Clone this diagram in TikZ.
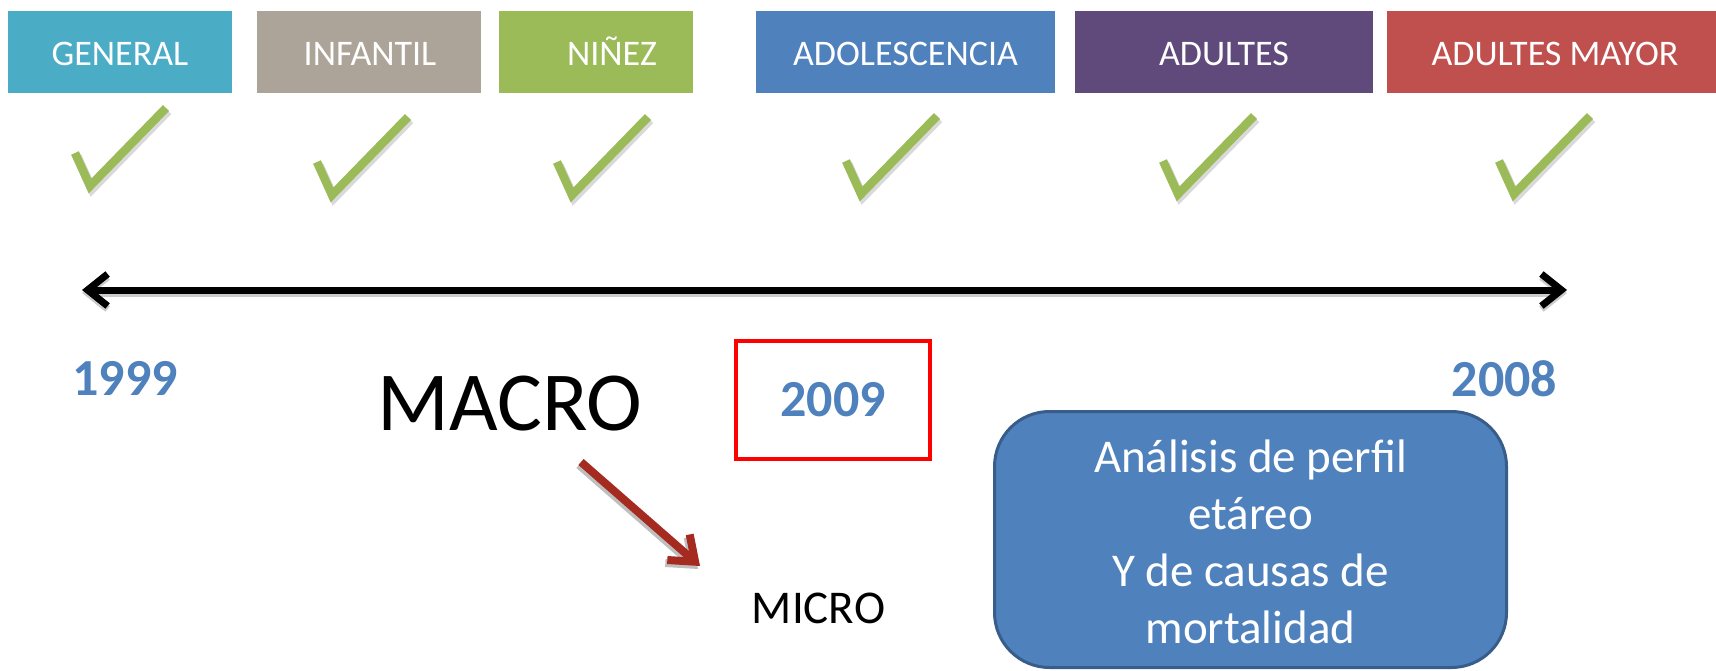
\documentclass[tikz,border=0pt]{standalone}
\usepackage{fontspec}
\setmainfont{Carlito}
\usetikzlibrary{arrows.meta}
\definecolor{cGeneral}{HTML}{4BACC6}
\definecolor{cInfantil}{HTML}{ACA498}
\definecolor{cNinez}{HTML}{9BBB59}
\definecolor{cAdol}{HTML}{4F81BD}
\definecolor{cAdult}{HTML}{604A7B}
\definecolor{cMayor}{HTML}{C0504D}
\definecolor{cBlue}{HTML}{4F81BD}
\definecolor{cBorder}{HTML}{385D8A}
\definecolor{cArrowRed}{HTML}{A52A20}
\begin{document}
\begin{tikzpicture}[x=1pt,y=-1pt,
  catbox/.style={rectangle, inner sep=0pt, anchor=north west, minimum height=82pt},
  catlabel/.style={anchor=base, text=white, font=\fontsize{36}{43}\selectfont, inner sep=0pt},
  tick/.style={draw=cNinez, line width=8.5pt},
  tickshadow/.style={draw=black, opacity=0.15, line width=9pt},
  year/.style={text=cBlue, font=\bfseries\fontsize{52}{62}\selectfont, inner sep=0pt},
  timeline/.style={line width=7pt, {Straight Barb[length=20pt,width=32pt]}-{Straight Barb[length=20pt,width=32pt]}},
  redarrow/.style={draw=cArrowRed, line width=8pt, -{Straight Barb[length=22pt,width=34pt]}},
]
\useasboundingbox (0,0) rectangle (1716,671);

% category boxes
\node[catbox, fill=cGeneral,  minimum width=224pt] (bGeneral)  at (8,11) {};
\node[catbox, fill=cInfantil, minimum width=224pt] (bInfantil) at (257,11) {};
\node[catbox, fill=cNinez,    minimum width=194pt] (bNinez)    at (499,11) {};
\node[catbox, fill=cAdol,     minimum width=299pt] (bAdol)     at (756,11) {};
\node[catbox, fill=cAdult,    minimum width=298pt] (bAdult)    at (1075,11) {};
\node[catbox, fill=cMayor,    minimum width=329pt] (bMayor)    at (1387,11) {};

\node[catlabel] (lGeneral)  at (120,65.5)  {GENERAL};
\node[catlabel] (lInfantil) at (370,65.5)  {INFANTIL};
\node[catlabel] (lNinez)    at (612,65.5)  {NIÑEZ};
\node[catlabel] (lAdol)     at (905.5,65.5) {ADOLESCENCIA};
\node[catlabel] (lAdult)    at (1224,65.5) {ADULTES};
\node[catlabel] (lMayor)    at (1555,65.5) {ADULTES MAYOR};

% check marks
\foreach \vx/\vy in {90/186, 332/195, 572/195, 861/194, 1178/194, 1514/194}{
  \draw[tickshadow] (\vx-13,\vy-30) -- (\vx+2,\vy+3) -- (\vx+78,\vy-75);
  \draw[tick] (\vx-15,\vy-33) -- (\vx,\vy) -- (\vx+76,\vy-78);
}

% timeline
\coordinate (tlL) at (82,290);
\coordinate (tlR) at (1567,290);
\draw[timeline, draw=black!20, transform canvas={yshift=-3pt}] (tlL) -- (tlR);
\draw[timeline] (tlL) -- (tlR);

% years
\node[year] (y1999) at (125,378.5) {1999};
\node[year] (y2008) at (1504.5,378.5) {2008};
\node[year, draw=red, line width=4.5pt, minimum width=194pt, minimum height=118pt] (y2009) at (833,400) {2009};

% macro / micro
\node[inner sep=0pt, font=\fontsize{84}{100}\selectfont] (macro) at (510,404) {MACRO};
\node[inner sep=0pt, font=\fontsize{47}{56}\selectfont] (micro) at (818.5,608) {MICRO};
\coordinate (rA) at (581,462);
\coordinate (rB) at (700,566);
\draw[redarrow, draw=black!25, transform canvas={xshift=-2pt,yshift=-3pt}] (rA) -- (rB);
\draw[redarrow] (rA) -- (rB);

% analysis box
\node[draw=cBorder, fill=cBlue, line width=3pt, rounded corners=55pt,
      minimum width=512pt, minimum height=256pt, inner sep=0pt, text=white] (analysis) at (1250.5,539.5)
  {\raisebox{-7pt}[\height][\depth]{\fontsize{47}{57}\selectfont\begin{tabular}{@{}c@{}}Análisis de perfil\\etáreo\\Y de causas de\\mortalidad\end{tabular}}};
\end{tikzpicture}
\end{document}
